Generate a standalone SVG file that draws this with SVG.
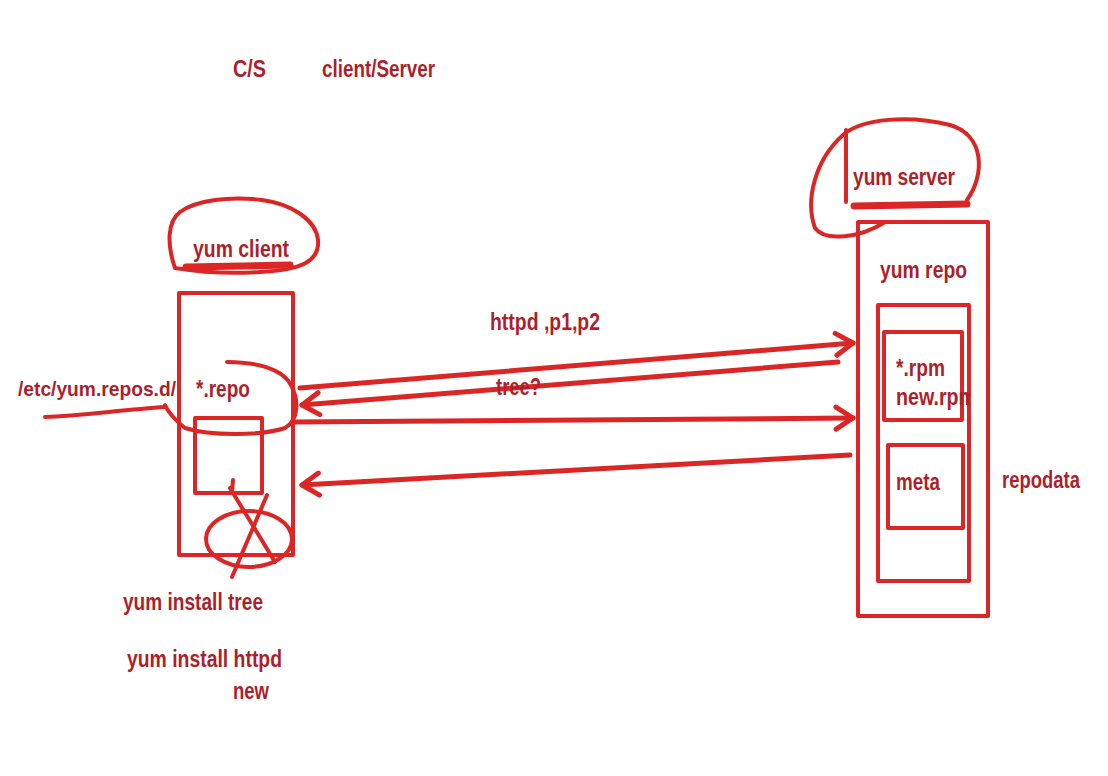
<svg xmlns="http://www.w3.org/2000/svg" width="1108" height="776" viewBox="0 0 1108 776">
<defs>
<style>
.t{font-family:"Liberation Sans",Arial,sans-serif;font-weight:bold;font-size:23px;fill:#ad1f2b}
.s{fill:none;stroke:#dc2626;stroke-width:4;stroke-linecap:round;stroke-linejoin:round}
.a{fill:none;stroke:#dc2626;stroke-width:5;stroke-linecap:round}
.th{fill:none;stroke:#dc2626;stroke-width:7;stroke-linecap:round}
</style>
<marker id="ah" markerUnits="userSpaceOnUse" markerWidth="30" markerHeight="30" viewBox="-20 -15 30 30" refX="0" refY="0" orient="auto">
<path d="M-17,-11 L0,0 L-17,11" fill="none" stroke="#dc2626" stroke-width="5" stroke-linecap="round" stroke-linejoin="round"/>
</marker>
<clipPath id="cp"><rect x="880" y="380" width="90" height="40"/></clipPath>
</defs>
<rect width="1108" height="776" fill="#ffffff"/>
<g id="title">
<text class="t" x="233" y="77" textLength="33" lengthAdjust="spacingAndGlyphs">C/S</text>
<text class="t" x="322" y="77" textLength="113" lengthAdjust="spacingAndGlyphs">client/Server</text>
</g>
<g id="client">
<path class="s" d="M175,268 C167,245 167,222 180,212 C196,200 230,196 262,200 C292,204 316,220 318,240 C320,262 300,270 260,272 C230,274 200,272 175,268 Z"/>
<text class="t" x="193" y="257" textLength="96" lengthAdjust="spacingAndGlyphs">yum client</text>
<path class="th" d="M186,267 L290,265"/>
<rect class="s" x="179" y="293" width="114" height="262"/>
<text class="t" x="196" y="397" textLength="54" lengthAdjust="spacingAndGlyphs">*.repo</text>
<rect class="s" x="195" y="418" width="67" height="75"/>
<ellipse class="s" cx="249" cy="539" rx="43" ry="28"/>
<path class="s" d="M230,488 L275,562 M267,495 L232,577 M233,480 L232,492"/>
</g>
<g id="repos-dir">
<text class="t" x="18" y="396" style="font-size:20.5px" textLength="158" lengthAdjust="spacingAndGlyphs">/etc/yum.repos.d/</text>
<path class="s" d="M45,417 C80,416 120,410 165,407"/>
<path class="s" d="M227,362 C255,362 282,368 291,385 C299,400 299,420 285,428 C260,436 210,436 185,428 C175,420 168,412 165,405"/>
</g>
<g id="server">
<path class="s" d="M967,200 C985,175 985,135 950,125 C910,115 862,118 843,135 C815,160 805,200 815,228 C825,242 860,238 885,222"/>
<path class="s" d="M846,130 L846,202"/>
<text class="t" x="853" y="185" textLength="102" lengthAdjust="spacingAndGlyphs">yum server</text>
<path class="th" d="M854,206 L967,204"/>
<rect class="s" x="858" y="222" width="130" height="394"/>
<text class="t" x="880" y="278" textLength="87" lengthAdjust="spacingAndGlyphs">yum repo</text>
<rect class="s" x="878" y="305" width="91" height="276"/>
<rect class="s" x="884" y="332" width="78" height="88"/>
<text class="t" x="896" y="376" textLength="49" lengthAdjust="spacingAndGlyphs">*.rpm</text>
<text class="t" x="896" y="405" textLength="80" lengthAdjust="spacingAndGlyphs" clip-path="url(#cp)">new.rpm</text>
<rect class="s" x="888" y="445" width="75" height="83"/>
<text class="t" x="896" y="490" textLength="44" lengthAdjust="spacingAndGlyphs">meta</text>
<text class="t" x="1002" y="488" textLength="78" lengthAdjust="spacingAndGlyphs">repodata</text>
</g>
<g id="commands">
<text class="t" x="123" y="610" textLength="140" lengthAdjust="spacingAndGlyphs">yum install tree</text>
<text class="t" x="127" y="667" textLength="155" lengthAdjust="spacingAndGlyphs">yum install httpd</text>
<text class="t" x="233" y="699" textLength="36" lengthAdjust="spacingAndGlyphs">new</text>
</g>
<g id="connectors">
<path class="a" d="M300,388 L853,343" marker-end="url(#ah)"/>
<path class="a" d="M838,362 L302,405" marker-end="url(#ah)"/>
<path class="a" d="M293,422 L853,418" marker-end="url(#ah)"/>
<path class="a" d="M850,455 L302,485" marker-end="url(#ah)"/>
<text class="t" x="490" y="330" textLength="110" lengthAdjust="spacingAndGlyphs">httpd ,p1,p2</text>
<text class="t" x="496" y="395" textLength="45" lengthAdjust="spacingAndGlyphs">tree?</text>
</g>
</svg>
